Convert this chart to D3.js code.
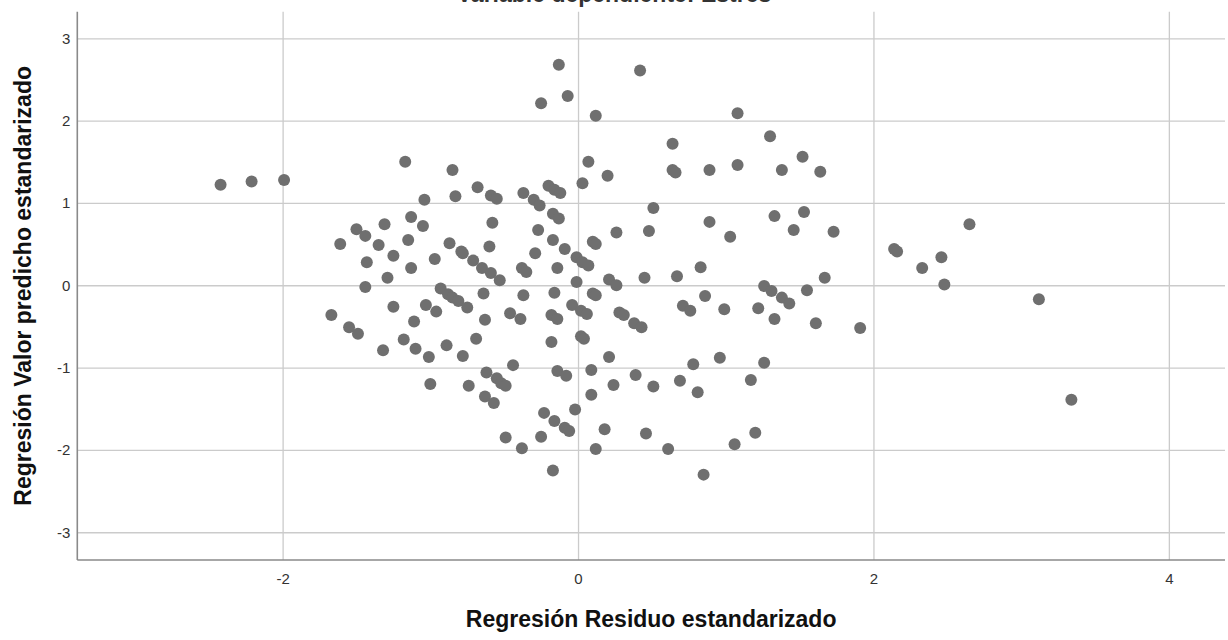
<!DOCTYPE html>
<html lang="es">
<head>
<meta charset="utf-8">
<title>Gráfico de dispersión</title>
<script src="https://cdn.jsdelivr.net/npm/d3@7"></script>
<style>
    body { margin: 0; background: #ffffff; }
    svg { display: block; font-family: "Liberation Sans", Arial, sans-serif; }
    .grid line { stroke: #cbcbcb; stroke-width: 1.3px; }
    .grid .domain { display: none; }
    .tick text { fill: #333333; font-size: 15px; }
</style>
</head>
<body>
<svg id="scatter"></svg>
<script>
"use strict";

// Regresión Residuo estandarizado (eje X)
const residuos = [
    -0.13, 0.42, -0.07, -0.25, 0.12, 1.08, 1.30, 0.64, 1.52, 1.64,
    1.38, 1.08, 0.89, 0.64, 0.66, 0.07, 0.20, -1.17, -0.85, -2.42,
    -2.21, -1.99, 0.03, -1.04, -0.83, -0.68, -0.59, -0.55, -0.37, -0.30,
    -0.26, -0.20, -0.16, -0.12, 0.51, 1.53, -1.13, -1.05, -1.15, -0.87,
    -0.79, -0.78, -0.71, -0.97, -0.60, -0.58, -0.27, -0.17, -0.13, -0.17,
    -0.09, -0.29, -0.01, 0.10, 0.12, 0.26, 0.48, 0.89, 1.03, 1.33,
    1.46, 1.73, 2.14, 2.16, 2.65, 2.46, -1.61, -1.50, -1.44, -1.31,
    -1.35, -1.25, -1.13, -1.43, -1.29, -1.44, -0.65, -0.59, -0.53, -0.38,
    -0.35, -0.14, 0.03, 0.07, -0.01, 0.21, 0.26, 0.45, 0.67, 0.83,
    2.33, 2.48, 1.67, 1.55, -0.93, -0.88, -0.85, -0.81, -0.75, -0.64,
    -0.37, -0.16, 0.10, 0.12, 0.86, 1.26, 1.31, 1.38, 1.43, 3.12,
    -1.03, -0.96, -1.11, -1.67, -1.55, -1.49, -1.25, -1.32, -1.18, -1.10,
    -0.46, -0.39, -0.18, -0.14, -0.04, 0.02, 0.06, -0.63, 0.28, 0.31,
    0.38, 0.43, 0.71, 0.76, 0.99, 1.22, 1.33, 1.61, 1.91, -1.01,
    -0.89, -0.78, -0.69, -0.18, 0.02, 0.04, 0.21, -0.44, -0.62, -0.55,
    -0.14, -0.08, 0.09, 0.39, 0.78, 0.96, 1.26, -1.00, -0.74, -0.52,
    -0.49, -0.63, -0.57, 0.09, 0.24, 0.51, 0.69, 0.81, 1.17, -0.23,
    -0.16, -0.09, -0.06, -0.02, 0.18, 0.46, 1.20, 1.06, 0.61, 0.12,
    -0.25, -0.49, -0.38, -0.17, 0.85, 3.34
];

// Regresión Valor predicho estandarizado (eje Y)
const predichos = [
    2.68, 2.61, 2.30, 2.21, 2.06, 2.09, 1.81, 1.72, 1.56, 1.38,
    1.40, 1.46, 1.40, 1.40, 1.37, 1.50, 1.33, 1.50, 1.40, 1.22,
    1.26, 1.28, 1.24, 1.04, 1.08, 1.19, 1.09, 1.05, 1.12, 1.04,
    0.97, 1.21, 1.16, 1.12, 0.94, 0.89, 0.83, 0.72, 0.55, 0.51,
    0.41, 0.39, 0.30, 0.32, 0.47, 0.76, 0.67, 0.87, 0.81, 0.55,
    0.44, 0.39, 0.34, 0.53, 0.50, 0.64, 0.66, 0.77, 0.59, 0.84,
    0.67, 0.65, 0.44, 0.41, 0.74, 0.34, 0.50, 0.68, 0.60, 0.74,
    0.49, 0.36, 0.21, 0.28, 0.09, -0.02, 0.21, 0.15, 0.06, 0.21,
    0.16, 0.21, 0.28, 0.24, 0.04, 0.07, 0.00, 0.09, 0.11, 0.22,
    0.21, 0.01, 0.09, -0.06, -0.04, -0.11, -0.15, -0.19, -0.27, -0.10,
    -0.12, -0.09, -0.10, -0.12, -0.13, -0.01, -0.07, -0.15, -0.22, -0.17,
    -0.24, -0.32, -0.44, -0.36, -0.51, -0.59, -0.26, -0.79, -0.66, -0.77,
    -0.34, -0.41, -0.36, -0.41, -0.24, -0.31, -0.35, -0.42, -0.33, -0.36,
    -0.46, -0.51, -0.25, -0.31, -0.29, -0.28, -0.41, -0.46, -0.52, -0.87,
    -0.73, -0.86, -0.65, -0.69, -0.62, -0.65, -0.87, -0.97, -1.06, -1.13,
    -1.04, -1.10, -1.03, -1.09, -0.96, -0.88, -0.94, -1.20, -1.22, -1.19,
    -1.22, -1.35, -1.43, -1.33, -1.21, -1.23, -1.16, -1.30, -1.15, -1.55,
    -1.65, -1.73, -1.77, -1.51, -1.75, -1.80, -1.79, -1.93, -1.99, -1.99,
    -1.84, -1.85, -1.98, -2.25, -2.30, -1.39
];

const xTicks = [-2, 0, 2, 4];
const yTicks = [-3, -2, -1, 0, 1, 2, 3];

const chartTitle = "Variable dependiente: Estrés";
const xLabel = "Regresión Residuo estandarizado";
const yLabel = "Regresión Valor predicho estandarizado";

const width = 1228,
    height = 640,
    margin = {top: 11.7, right: 3, bottom: 80, left: 77.3},
    plotWidth = width - margin.left - margin.right,
    plotHeight = height - margin.top - margin.bottom;

// Etiquetas con guion simple, como en el original
const tickLabel = (d) => String(d);

const svg = d3.select("#scatter")
    .attr("width", width)
    .attr("height", height);

const xScale = d3.scaleLinear()
    .domain([-3.39, 4.38])
    .range([0, plotWidth]);

const yScale = d3.scaleLinear()
    .domain([-3.337, 3.323])
    .range([plotHeight, 0]);

const plot = svg.append("g")
    .attr("transform", "translate(" + margin.left + "," + margin.top + ")");

// Rejilla vertical con etiquetas del eje X
plot.append("g")
    .attr("class", "grid")
    .attr("transform", "translate(0," + plotHeight + ")")
    .call(d3.axisBottom(xScale).tickValues(xTicks).tickFormat(tickLabel)
        .tickSize(-plotHeight).tickPadding(13))
    .selectAll(".tick text")
    .attr("dy", "0.71em");

// Rejilla horizontal con etiquetas del eje Y
plot.append("g")
    .attr("class", "grid")
    .call(d3.axisLeft(yScale).tickValues(yTicks).tickFormat(tickLabel)
        .tickSize(-plotWidth).tickPadding(7));

// Ejes
plot.append("line")
    .attr("x1", 0).attr("x2", 0)
    .attr("y1", 0).attr("y2", plotHeight)
    .attr("stroke", "#8a8a8a")
    .attr("stroke-width", 1.6);

plot.append("line")
    .attr("x1", 0).attr("x2", plotWidth)
    .attr("y1", plotHeight).attr("y2", plotHeight)
    .attr("stroke", "#8a8a8a")
    .attr("stroke-width", 1.6);

// Puntos
plot.append("g")
    .selectAll("circle")
    .data(residuos.map((d, i) => [d, predichos[i]]))
    .enter()
    .append("circle")
    .attr("cx", (d) => xScale(d[0]))
    .attr("cy", (d) => yScale(d[1]))
    .attr("r", 6)
    .style("fill", "#6f6f6f");

// Títulos (el título superior queda recortado, igual que en el original)
svg.append("text")
    .attr("x", width / 2)
    .attr("y", 1.5)
    .attr("text-anchor", "middle")
    .style("font-size", "23px")
    .style("font-weight", "bold")
    .style("fill", "#333")
    .text(chartTitle);

svg.append("text")
    .attr("x", margin.left + plotWidth / 2)
    .attr("y", 627)
    .attr("text-anchor", "middle")
    .style("font-size", "23px")
    .style("font-weight", "bold")
    .style("fill", "#111")
    .text(xLabel);

svg.append("text")
    .attr("transform", "translate(31," + (margin.top + plotHeight / 2) + ") rotate(-90)")
    .attr("text-anchor", "middle")
    .style("font-size", "23px")
    .style("font-weight", "bold")
    .style("fill", "#111")
    .text(yLabel);
</script>
</body>
</html>
